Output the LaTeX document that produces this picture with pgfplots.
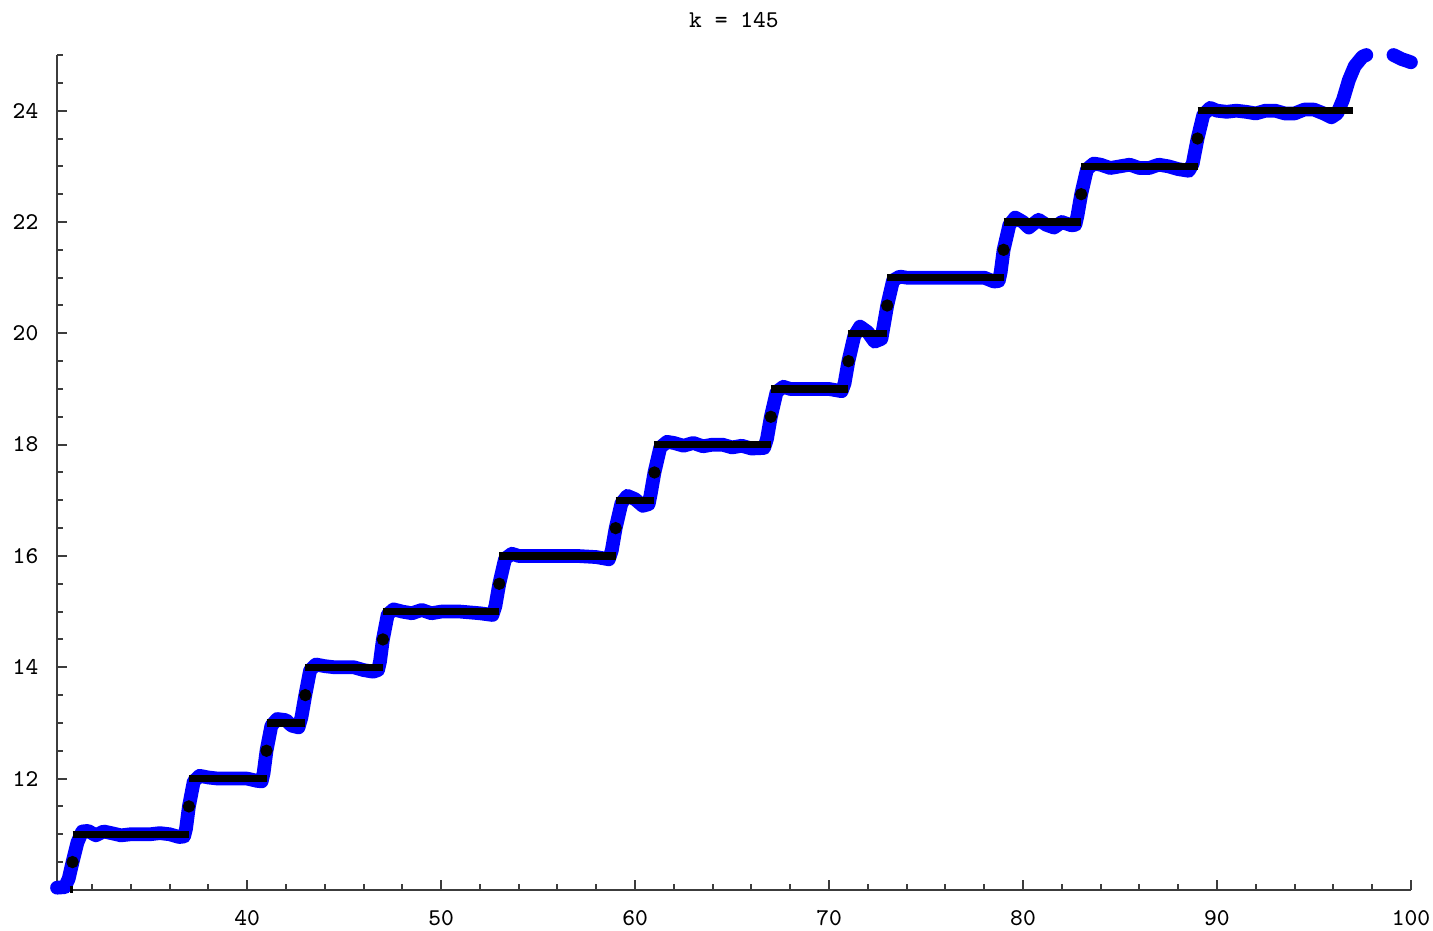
\documentclass[border=0pt]{standalone}
\usepackage{pgfplots}
\pgfplotsset{compat=1.18}
\definecolor{axgray}{RGB}{60,60,60}
\begin{document}
\begin{tikzpicture}
\begin{axis}[
  scale only axis,
  width=472.4pt, height=291.3pt,
  xmin=30.2, xmax=100, ymin=10, ymax=25,
  axis lines*=left,
  axis line style={axgray, line width=0.9pt},
  clip=false,
  xtick={40,50,...,100},
  ytick={12,14,...,24},
  minor xtick={32,34,...,100},
  minor ytick={10.5,11,...,25},
  tick align=inside,
  major tick length=3.5pt,
  minor tick length=2pt,
  tick style={axgray, line width=0.7pt},
  ticklabel style={font=\fontsize{8.4}{10}\selectfont\ttfamily},
  /pgf/number format/assume math mode=true,
  xticklabel style={yshift=-3.5pt},
  yticklabel style={xshift=-3pt},
  title={k = 145},
  title style={font=\fontsize{8.4}{10}\selectfont\ttfamily, yshift=0pt},
]
% smooth approximation (blue)
\addplot[blue, line width=4.8pt, line join=round, line cap=round] coordinates {
(30.2,10.04)(30.6,10.05)(30.8,10.2)(31.0,10.5)(31.25,10.85)(31.5,11.05)(31.8,11.06)(32.2,10.98)(32.6,11.05)(33.0,11.02)(33.5,10.98)(34,11.0)(35,11.0)(35.5,11.02)(36,11.0)(36.5,10.95)(36.75,10.96)(36.85,11.1)(37.0,11.5)(37.25,11.95)(37.55,12.05)(38,12.02)(38.5,12.0)(39,12.0)(40,12.0)(40.5,11.96)(40.75,11.95)(40.85,12.1)(41.0,12.5)(41.25,12.95)(41.55,13.07)(42,13.05)(42.3,12.95)(42.65,12.92)(42.8,13.1)(43.0,13.5)(43.25,13.95)(43.55,14.05)(44,14.02)(44.5,14.0)(45,14.0)(45.5,14.0)(46,13.95)(46.5,13.92)(46.75,13.95)(46.85,14.1)(47,14.5)(47.25,14.95)(47.55,15.04)(48,15.0)(48.5,14.97)(49,15.03)(49.5,14.97)(50,15.0)(51,15.0)(52,14.97)(52.65,14.94)(52.8,15.1)(53,15.5)(53.3,15.95)(53.65,16.04)(54,16.0)(55,16.0)(56,16.0)(57,16.0)(58,15.98)(58.65,15.94)(58.8,16.1)(59.0,16.5)(59.3,16.95)(59.6,17.08)(60,17.02)(60.4,16.9)(60.7,16.93)(60.8,17.1)(61,17.5)(61.3,17.95)(61.65,18.05)(62,18.03)(62.5,17.98)(63,18.03)(63.5,17.97)(64,18.0)(64.5,18.0)(65,17.95)(65.5,17.98)(66,17.93)(66.65,17.94)(66.8,18.1)(67,18.5)(67.3,18.95)(67.65,19.04)(68,19.0)(69,19.0)(70,19.0)(70.65,18.96)(70.8,19.1)(71,19.5)(71.3,19.95)(71.6,20.12)(72,20.02)(72.35,19.85)(72.7,19.9)(72.8,20.1)(73,20.5)(73.3,20.95)(73.65,21.02)(74,21.0)(75,21.0)(76,21.0)(77,21.0)(78,21.0)(78.5,20.93)(78.75,20.94)(78.85,21.1)(79,21.5)(79.3,21.95)(79.6,22.08)(80,22.0)(80.3,21.9)(80.8,22.04)(81.2,21.95)(81.6,21.9)(82,22.0)(82.5,21.94)(82.7,21.95)(82.8,22.1)(83,22.5)(83.3,22.95)(83.65,23.05)(84,23.03)(84.5,22.97)(85,23.0)(85.5,23.03)(86,22.97)(86.5,22.97)(87,23.03)(87.5,23.0)(88,22.95)(88.55,22.92)(88.75,23.05)(89,23.5)(89.3,23.93)(89.65,24.05)(90,24.0)(90.5,23.98)(91,24.0)(91.5,23.98)(92,23.95)(92.5,24.0)(93,24.0)(93.5,23.95)(94,23.95)(94.5,24.02)(95,24.02)(95.5,23.95)(95.9,23.88)(96.2,23.95)(96.5,24.2)(96.8,24.55)(97.1,24.8)(97.5,24.97)(97.7,25.0)
};
\addplot[blue, line width=4.8pt, line join=round, line cap=round] coordinates {
(99.1,25.0)(99.5,24.93)(100,24.87)
};
% prime counting steps (black)
\addplot[black, line width=2.5pt, jump mark left] coordinates {
(30.85,10)(31,11)(37,12)(41,13)(43,14)(47,15)(53,16)(59,17)(61,18)(67,19)(71,20)(73,21)(79,22)(83,23)(89,24)(97,25)
};
\addplot[only marks, mark=*, mark size=1.95pt, black] coordinates {
(31,10.5)(37,11.5)(41,12.5)(43,13.5)(47,14.5)(53,15.5)(59,16.5)(61,17.5)(67,18.5)(71,19.5)(73,20.5)(79,21.5)(83,22.5)(89,23.5)
};
\end{axis}
\pgfresetboundingbox
\path (-19.9pt,-14pt) rectangle (480.1pt,310.5pt);
\end{tikzpicture}
\end{document}
